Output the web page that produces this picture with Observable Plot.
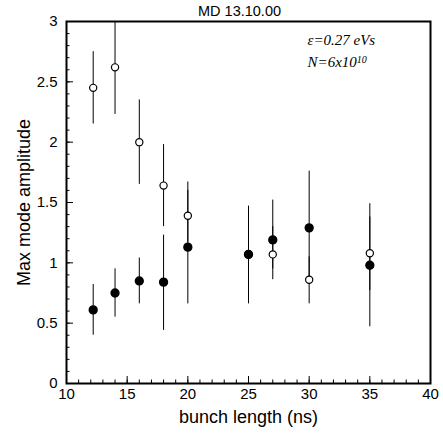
<!DOCTYPE html>
<html><head><meta charset="utf-8">
<script src="https://cdn.jsdelivr.net/npm/d3@7"></script>
<script src="https://cdn.jsdelivr.net/npm/@observablehq/plot@0.6"></script>
<style>body{margin:0;background:#fff}</style>
</head><body><div id="chart"></div>
<script>
// Data
const bunchLength = [12.2, 14, 16, 18, 20, 25, 27, 30, 35];
const openAmp  = [2.45, 2.62, 2.00, 1.64, 1.39, 1.07, 1.07, 0.86, 1.08];
const openLo   = [2.15, 2.23, 1.65, 1.30, 1.17, 0.80, 0.86, 0.66, 0.77];
const openHi   = [2.75, 3.00, 2.35, 1.98, 1.60, 1.33, 1.30, 1.05, 1.38];
const filledAmp = [0.61, 0.75, 0.85, 0.84, 1.13, 1.07, 1.19, 1.29, 0.98];
const filledLo  = [0.40, 0.55, 0.66, 0.44, 0.66, 0.66, 0.95, 0.82, 0.47];
const filledHi  = [0.82, 0.95, 1.04, 1.23, 1.67, 1.47, 1.52, 1.76, 1.49];
const xMajor = [10, 15, 20, 25, 30, 35, 40];
const yMajor = [0, 0.5, 1, 1.5, 2, 2.5, 3];
const xMinor = d3.range(10, 41, 1);
const yMinor = d3.range(0, 31, 1).map(d => d / 10);
const title = "MD 13.10.00";
const note1 = "ε=0.27 eVs";
const note2 = "N=6x10";
const note2sup = "10";
const xLabel = "bunch length (ns)";
const yLabel = "Max mode amplitude";

const openData = bunchLength.map((x, i) => ({x, y: openAmp[i], lo: openLo[i], hi: openHi[i]}));
const filledData = bunchLength.map((x, i) => ({x, y: filledAmp[i], lo: filledLo[i], hi: filledHi[i]}));

const W = 443, H = 437, mt = 21, mb = 54, ml = 66, mr = 13;
const fw = W - ml - mr, fh = H - mt - mb;
const sans = "'Liberation Sans', Arial, Helvetica, sans-serif";
const serif = "'Liberation Serif', 'Times New Roman', serif";

const chart = Plot.plot({
  width: W, height: H,
  marginTop: mt, marginBottom: mb, marginLeft: ml, marginRight: mr,
  style: {fontFamily: sans, fontSize: "15px", color: "#000", background: "#fff"},
  x: {domain: [10, 40]},
  y: {domain: [0, 3]},
  marks: [
    Plot.ruleX(openData, {x: "x", y1: "lo", y2: "hi", stroke: "#000", strokeWidth: 1}),
    Plot.ruleX(filledData, {x: "x", y1: "lo", y2: "hi", stroke: "#000", strokeWidth: 1}),
    Plot.dot(openData, {x: "x", y: "y", r: 3.6, fill: "#fff", stroke: "#000", strokeWidth: 1.2}),
    Plot.dot(filledData, {x: "x", y: "y", r: 3.9, fill: "#000", stroke: "#000"}),
    Plot.tickX(xMinor, {x: d => d, insetTop: fh - 3.5, stroke: "#000"}),
    Plot.tickX(xMajor, {x: d => d, insetTop: fh - 7, stroke: "#000"}),
    Plot.tickY(yMinor, {y: d => d, insetRight: fw - 3.5, stroke: "#000"}),
    Plot.tickY(yMajor, {y: d => d, insetRight: fw - 7, stroke: "#000"}),
    Plot.axisX({ticks: xMajor, tickSize: 0, tickPadding: 5, fontSize: 15, label: null}),
    Plot.axisY({ticks: yMajor, tickSize: 0, tickPadding: 9, fontSize: 15, tickFormat: d => String(d), label: null}),
    Plot.frame({stroke: "#000", strokeWidth: 2}),
    Plot.text([xLabel], {frameAnchor: "bottom", lineAnchor: "middle", textAnchor: "middle", dy: 34, fontSize: 18, fontFamily: sans}),
    Plot.text([yLabel], {frameAnchor: "left", lineAnchor: "middle", textAnchor: "middle", dx: -42, rotate: -90, fontSize: 18, fontFamily: sans}),
    Plot.text([title], {frameAnchor: "top", lineAnchor: "middle", textAnchor: "middle", dx: -9, dy: -10, fontSize: 14.5, fontFamily: sans}),
    Plot.text([note1], {frameAnchor: "top-left", lineAnchor: "middle", dx: 241, dy: 19, textAnchor: "start", fontSize: 15, fontFamily: serif, fontStyle: "italic"}),
    Plot.text([note2], {frameAnchor: "top-left", lineAnchor: "middle", dx: 241, dy: 41, textAnchor: "start", fontSize: 15, fontFamily: serif, fontStyle: "italic"})
  ]
});
document.getElementById("chart").appendChild(chart);
// superscript exponent
d3.select(chart).selectAll("text").filter(function() { return this.textContent === note2; })
  .append("tspan").attr("dy", "-0.45em").attr("font-size", "10px").text(note2sup);
</script>
</body></html>
